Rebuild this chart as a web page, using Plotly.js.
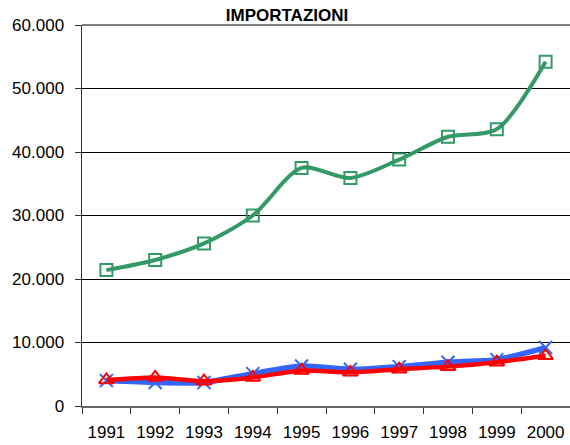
<!DOCTYPE html>
<html>
<head>
<meta charset="utf-8">
<script src="https://cdn.plot.ly/plotly-3.0.1.min.js"></script>
<style>html,body{margin:0;padding:0;background:#fff;}#chart{width:570px;height:445px;}</style>
</head>
<body>
<div id="chart"></div>
<script>
const years = ['1991','1992','1993','1994','1995','1996','1997','1998','1999','2000'];
const greenSeries = [21400, 23000, 25600, 30000, 37500, 35900, 38800, 42400, 43600, 54200];
const blueSeries  = [4000, 3700, 3700, 5100, 6300, 5800, 6200, 6900, 7300, 9200];
const redSeries   = [4100, 4500, 3900, 4500, 5600, 5300, 5800, 6200, 6900, 7900];
const yTicks = [0, 10000, 20000, 30000, 40000, 50000, 60000];

const traces = [
  {x: years, y: greenSeries, type: 'scatter', mode: 'lines+markers',
   line: {color: '#339966', width: 4, shape: 'spline', smoothing: 0.8},
   marker: {symbol: 'square-open', size: 12, color: '#339966', line: {width: 2, color: '#339966'}}},
  {x: years, y: blueSeries, type: 'scatter', mode: 'lines+markers',
   line: {color: '#3366FF', width: 5.5, shape: 'spline', smoothing: 0.6},
   marker: {symbol: 'x-thin-open', size: 13, color: '#3366FF', line: {width: 2, color: '#3366FF'}}},
  {x: years, y: redSeries, type: 'scatter', mode: 'lines+markers',
   line: {color: '#FF0000', width: 4.5, shape: 'spline', smoothing: 0.6},
   marker: {symbol: 'triangle-up-open', size: 13, color: '#FF0000', line: {width: 2, color: '#FF0000'}}}
];

const layout = {
  width: 570, height: 445,
  margin: {l: 82, r: 0, t: 25, b: 39, pad: 0},
  paper_bgcolor: '#fff', plot_bgcolor: '#fff',
  separators: ',.',
  showlegend: false,
  font: {family: 'Liberation Sans, Arial, sans-serif', size: 17, color: '#000'},
  title: {text: '<b>IMPORTAZIONI</b>', x: 287/570, xanchor: 'center', y: 1 - 15/445, yanchor: 'middle',
          font: {family: 'Liberation Sans, Arial, sans-serif', size: 17, color: '#000'}},
  xaxis: {type: 'category', tickson: 'boundaries', ticks: 'outside', ticklen: 6, tickcolor: '#333',
          ticklabelstandoff: 10,
          showline: true, linecolor: '#666', linewidth: 2, showgrid: false, zeroline: false,
          range: [-0.5, 9.5], tickfont: {size: 17}, fixedrange: true},
  yaxis: {range: [0, 60000], tickvals: yTicks, tickformat: ',d', ticks: 'outside', ticklen: 6, tickcolor: '#333',
          ticklabelstandoff: 7,
          showline: true, linecolor: '#333', linewidth: 1.5, showgrid: true, gridcolor: '#000', gridwidth: 1,
          zeroline: false, tickfont: {size: 17}, fixedrange: true},
  shapes: [{type: 'line', xref: 'paper', yref: 'paper', x0: 0, x1: 1, y0: 1, y1: 1, line: {color: '#808080', width: 2}}]
};

Plotly.newPlot('chart', traces, layout, {displayModeBar: false, staticPlot: true});
</script>
</body>
</html>
